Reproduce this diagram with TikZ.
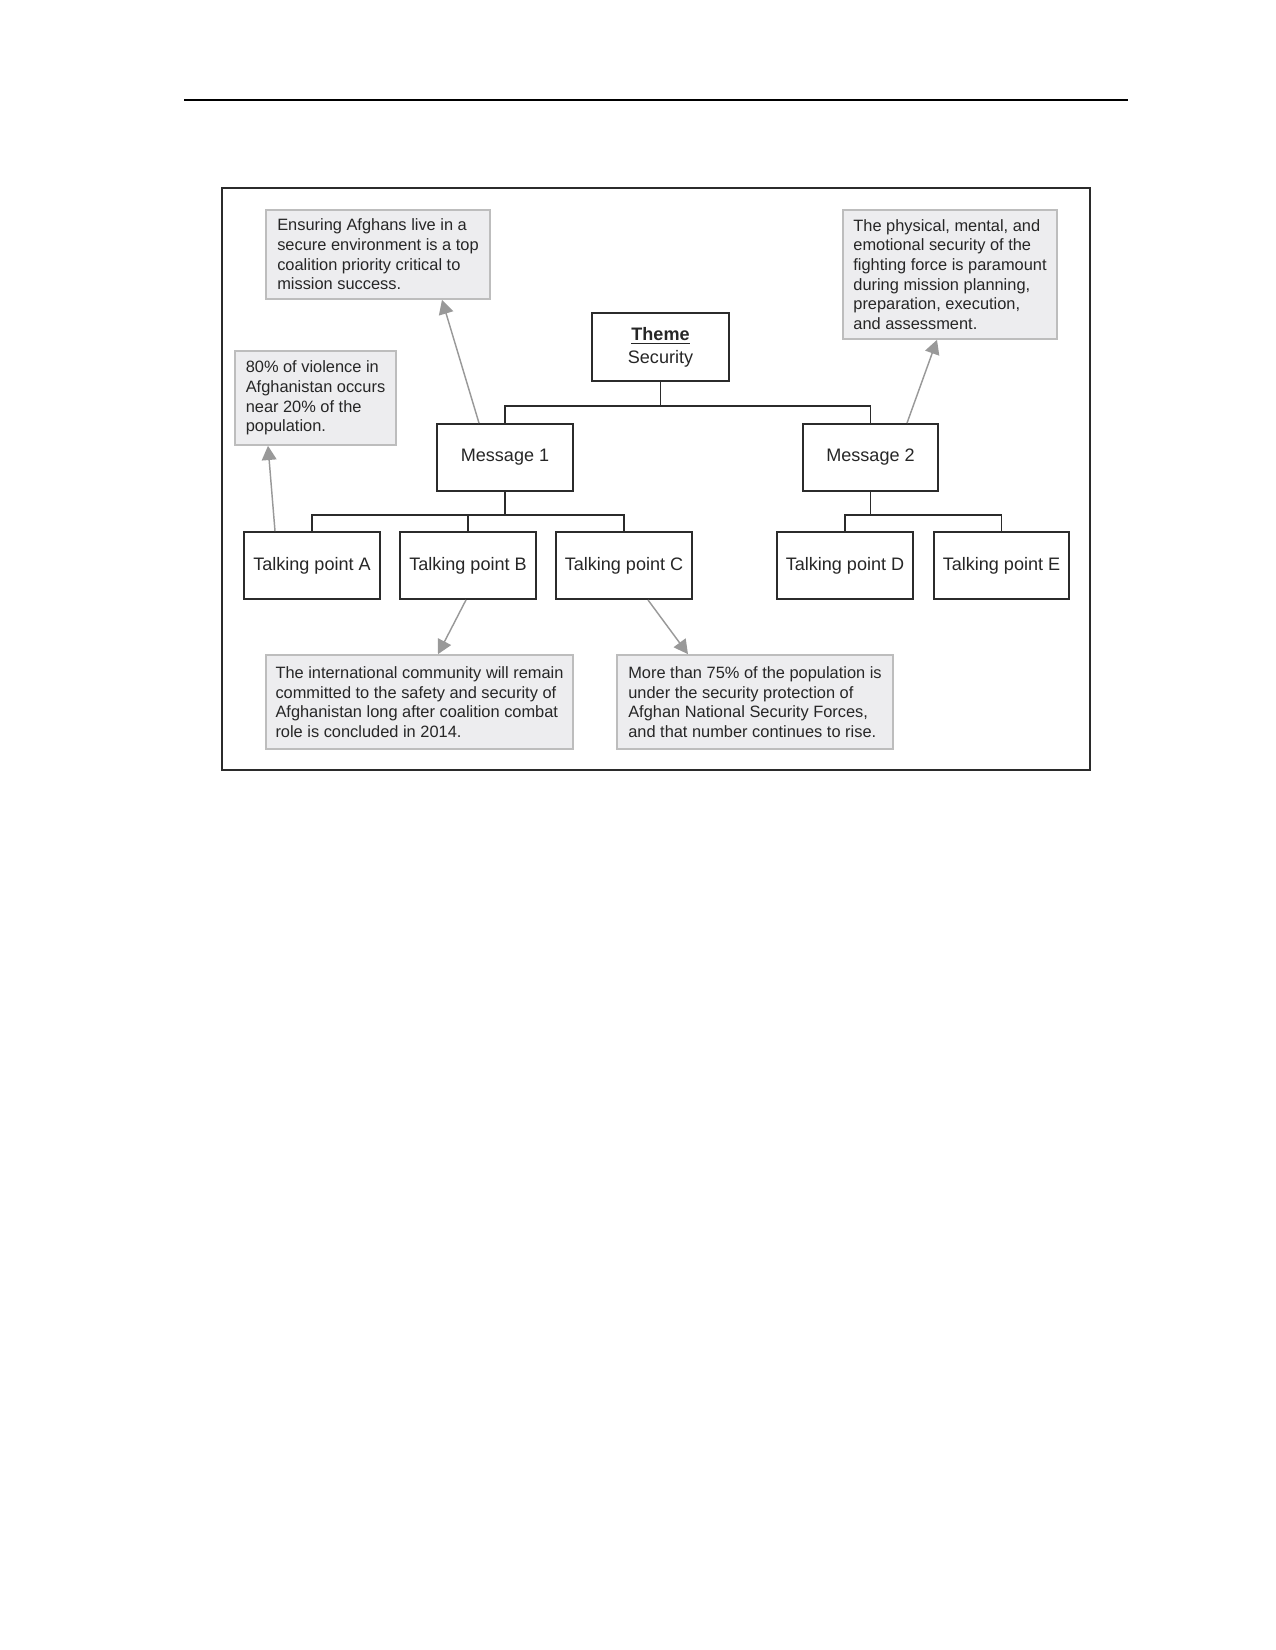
\documentclass[tikz,border=0pt]{standalone}
\usepackage{fontspec}
\setmainfont{Liberation Sans}
\usepackage{tikz}
\usetikzlibrary{arrows.meta,calc}
\definecolor{BoxBlack}{HTML}{2B2B2B}
\definecolor{NoteFill}{HTML}{EDEDEF}
\definecolor{NoteLine}{HTML}{BDBDBD}
\definecolor{PointerGray}{HTML}{999999}
\definecolor{TextGray}{HTML}{262626}

\begin{document}
\begin{tikzpicture}[x=0.16933mm,y=-0.16933mm,
    box/.style={draw=BoxBlack,line width=0.9pt,minimum width=23mm,minimum height=11.35mm,inner sep=0pt,text=TextGray,font=\fontsize{8.7}{11}\selectfont},
    note/.style={draw=NoteLine,fill=NoteFill,line width=0.8pt,align=left,inner sep=0pt,text=TextGray,font=\fontsize{7.9}{9.46}\selectfont},
    link/.style={draw=BoxBlack,line width=0.9pt},
    pointer/.style={draw=PointerGray,line width=0.7pt,-{Triangle[length=2.4mm,width=2.5mm]}}]
    \useasboundingbox (0,0) rectangle (1275,1650);
    \draw[line width=0.9pt] (184,100) -- (1128,100);
    \draw[draw=BoxBlack,line width=1pt] (222,188) rectangle (1090,770);

    \node[box,minimum width=23.2mm,minimum height=11.5mm,align=center] (theme) at (660.5,347) {\textbf{\underline{Theme}}\\Security};
    \node[box] (msg1) at (505,457.5) {Message 1};
    \node[box] (msg2) at (870.5,457.5) {Message 2};
    \foreach \name/\x/\letter in {tpa/312/A,tpb/468/B,tpc/624/C,tpd/845/D,tpe/1001.5/E}
      \node[box] (\name) at (\x,565.5) {Talking point \letter};

    \node[note,minimum width=37.93mm,minimum height=15.07mm] (secure) at (378,254.5) {Ensuring Afghans live in a\\secure environment is a top\\coalition priority critical to\\mission success.};
    \node[note,minimum width=27.26mm,minimum height=15.92mm] (violence) at (315.5,398) {80\% of violence in\\Afghanistan occurs\\near 20\% of the\\population.};
    \node[note,minimum width=36.24mm,minimum height=21.84mm] (force) at (950,274.5) {The physical, mental, and\\emotional security of the\\fighting force is paramount\\during mission planning,\\preparation, execution,\\and assessment.};
    \node[note,minimum width=51.98mm,minimum height=15.92mm] (community) at (419.5,702) {The international community will remain\\committed to the safety and security of\\Afghanistan long after coalition combat\\role is concluded in 2014.};
    \node[note,minimum width=46.74mm,minimum height=15.92mm] (protection) at (755,702) {More than 75\% of the population is\\under the security protection of\\Afghan National Security Forces,\\and that number continues to rise.};

    \foreach \name in {msg1,msg2}
      \draw[link] (theme.south) -- ++(0,24) -| (\name.north);
    \foreach \name in {tpa,tpb,tpc}
      \draw[link] (msg1.south) -- ++(0,23) -| (\name.north);
    \foreach \name in {tpd,tpe}
      \draw[link] (msg2.south) -- ++(0,23) -| (\name.north);

    \draw[pointer] ($(msg1.north)+(-26,0)$) -- ($(secure.south)+(64,0)$);
    \draw[pointer] ($(tpa.north)+(-37,0)$) -- ($(violence.south)+(-47.5,0)$);
    \draw[pointer] ($(msg2.north)+(36.5,0)$) -- ($(force.south)+(-13,0)$);
    \draw[pointer] ($(tpb.south)+(-2,0)$) -- ($(community.north)+(18.5,0)$);
    \draw[pointer] ($(tpc.south)+(24,0)$) -- ($(protection.north)+(-67,0)$);
\end{tikzpicture}
\end{document}
